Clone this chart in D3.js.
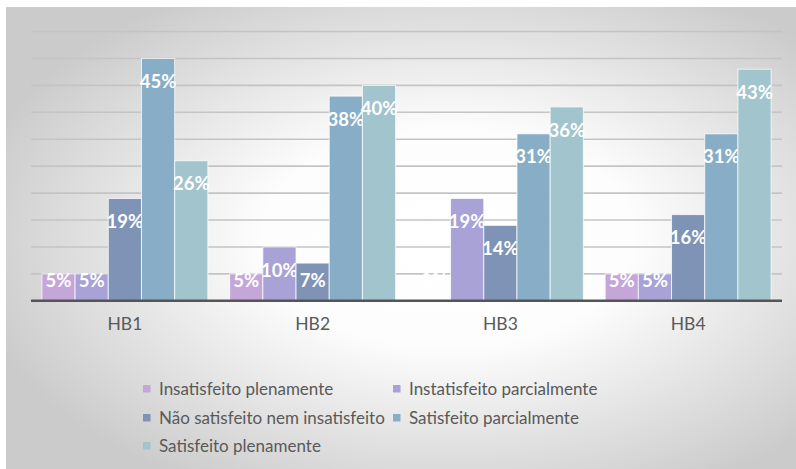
<!DOCTYPE html>
<html>
<head>
<meta charset="utf-8">
<script src="https://cdn.jsdelivr.net/npm/d3@7"></script>
<style>
  html, body { margin: 0; padding: 0; background: #ffffff; }
  svg { display: block; }
  text { font-family: Lato, "Open Sans", sans-serif; }
</style>
</head>
<body>
<svg id="chart" width="796" height="469"></svg>
<script>
// Survey categories and satisfaction levels (percent)
const categories = ["HB1", "HB2", "HB3", "HB4"];
const seriesNames = [
  "Insatisfeito plenamente",
  "Instatisfeito parcialmente",
  "Não satisfeito nem insatisfeito",
  "Satisfeito parcialmente",
  "Satisfeito plenamente"
];
const insatisfeitoPlenamente = [5, 5, 0, 5];
const instatisfeitoParcialmente = [5, 10, 19, 5];
const naoSatisfeitoNemInsatisfeito = [19, 7, 14, 16];
const satisfeitoParcialmente = [45, 38, 31, 31];
const satisfeitoPlenamente = [26, 40, 36, 43];
const seriesColors = ["#c4a6d9", "#a8a2d6", "#7f93b6", "#87aec6", "#a2c4cd"];
const gridTicks = [5, 10, 15, 20, 25, 30, 35, 40, 45, 50];

const seriesValues = [
  insatisfeitoPlenamente,
  instatisfeitoParcialmente,
  naoSatisfeitoNemInsatisfeito,
  satisfeitoParcialmente,
  satisfeitoPlenamente
];

const svg = d3.select("#chart");

// Background panel with soft radial shading
const defs = svg.append("defs");
const grad = defs.append("radialGradient")
  .attr("id", "bg")
  .attr("cx", 0.56).attr("cy", 0.5).attr("r", 0.62);
grad.append("stop").attr("offset", 0).attr("stop-color", "#ffffff");
grad.append("stop").attr("offset", 0.38).attr("stop-color", "#fdfdfd");
grad.append("stop").attr("offset", 1).attr("stop-color", "#cbcbcb");

svg.append("rect")
  .attr("x", 6).attr("y", 7)
  .attr("width", 790).attr("height", 462)
  .attr("fill", "url(#bg)");

const plotLeft = 31, plotRight = 782;
const x0 = d3.scaleBand()
  .domain(categories)
  .range([plotLeft, plotRight])
  .paddingInner(0.116)
  .paddingOuter(0.058);

const x1 = d3.scaleBand()
  .domain(d3.range(seriesNames.length))
  .range([0, x0.bandwidth()])
  .padding(0);

const y = d3.scaleLinear().domain([0, 50]).range([300.8, 31.5]);

// Horizontal gridlines
svg.append("g")
  .selectAll("line")
  .data(gridTicks)
  .join("line")
  .attr("x1", plotLeft).attr("x2", plotRight)
  .attr("y1", d => y(d)).attr("y2", d => y(d))
  .attr("stroke", "#c4c4c4")
  .attr("stroke-width", 1.6);

// Bars
const groups = svg.append("g")
  .selectAll("g")
  .data(categories)
  .join("g")
  .attr("transform", d => `translate(${x0(d)},0)`);

const cells = groups.selectAll("g.cell")
  .data((cat, ci) => seriesValues.map((vals, si) => ({ si, v: vals[ci] })))
  .join("g")
  .attr("class", "cell");

cells.append("rect")
  .attr("x", d => x1(d.si))
  .attr("y", d => y(d.v))
  .attr("width", x1.bandwidth())
  .attr("height", d => y(0) - y(d.v))
  .attr("fill", d => seriesColors[d.si])
  .attr("stroke", "#ffffff")
  .attr("stroke-opacity", 0.75)
  .attr("stroke-width", 1);

// Value labels inside the top of each bar
cells.append("text")
  .attr("x", d => x1(d.si) + x1.bandwidth() / 2)
  .attr("y", d => Math.min(y(d.v) + 23, y(0) - 20))
  .attr("dy", "0.36em")
  .attr("text-anchor", "middle")
  .attr("fill", "#ffffff")
  .attr("font-weight", "bold")
  .attr("font-size", "18.5px")
  .text(d => d.v + "%");

// Category axis
const xAxis = svg.append("g")
  .attr("transform", `translate(0,${y(0)})`)
  .call(d3.axisBottom(x0).tickSize(0).tickPadding(17));
xAxis.select(".domain")
  .attr("stroke", "#555555")
  .attr("stroke-width", 2.5)
  .attr("d", `M${plotLeft},0H${plotRight}`);
xAxis.selectAll("text")
  .attr("font-family", "Lato, 'Open Sans', sans-serif")
  .attr("font-size", "17.5px")
  .attr("fill", "#595959");

// Legend: two columns, wrapping over three rows
const legendRows = [389, 418, 446];
const legendColX = [143, 393];
const legend = svg.append("g");
let lastEnd = 0;
seriesNames.forEach((name, i) => {
  const row = Math.floor(i / 2), col = i % 2;
  let lx = legendColX[col];
  if (col === 1) lx = Math.max(lx, lastEnd + 1);
  const item = legend.append("g").attr("transform", `translate(${lx},${legendRows[row]})`);
  item.append("rect")
    .attr("x", 0).attr("y", -4)
    .attr("width", 7.5).attr("height", 7.5)
    .attr("fill", seriesColors[i]);
  const t = item.append("text")
    .attr("x", 16)
    .attr("dy", "0.35em")
    .attr("font-size", "17px")
    .attr("fill", "#595959")
    .text(name);
  lastEnd = lx + 16 + t.node().getComputedTextLength();
});
</script>
</body>
</html>
